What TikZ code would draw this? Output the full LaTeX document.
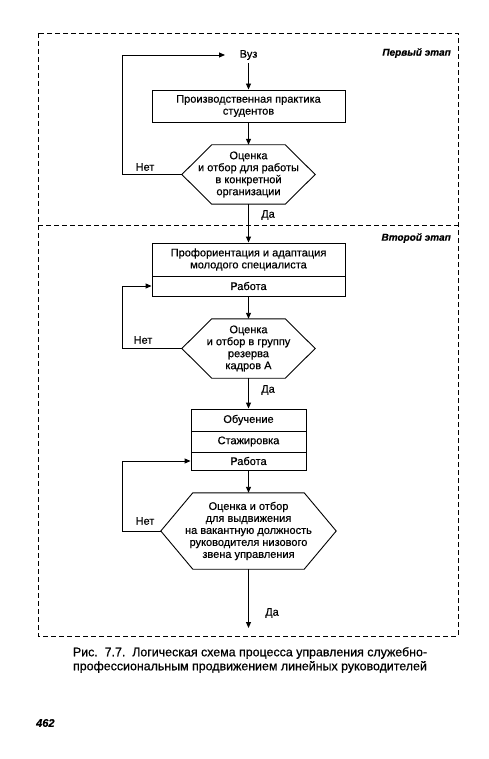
\documentclass[tikz,border=0pt]{standalone}
\usepackage{fontspec}
\setmainfont{Liberation Sans}[FakeBold=0.5]
\usetikzlibrary{arrows.meta,calc}
\newcommand\hexpath[2]{%
  \draw[conn] ($(#1.north west)+(#2,0)$) -- ($(#1.north east)-(#2,0)$) -- (#1.east)
    -- ($(#1.south east)-(#2,0)$) -- ($(#1.south west)+(#2,0)$) -- (#1.west) -- cycle;}
\begin{document}
\begin{tikzpicture}[x=1pt,y=-1pt,
  every node/.style={font=\fontsize{11}{12}\selectfont, inner sep=0pt},
  box/.style={draw, line width=0.9pt, align=center},
  hexnode/.style={align=center},
  conn/.style={line width=0.9pt},
  arr/.style={conn, -{Triangle[length=6pt,width=5pt]}},
  frame/.style={line width=0.9pt, dash pattern=on 5pt off 3pt},
  stage/.style={anchor=east, font=\fontsize{10}{12}\selectfont\bfseries\itshape},
  lbl/.style={}
]
\fill[white] (0,0) rectangle (489,759);
\useasboundingbox (0,0) rectangle (489,759);

% frames
\draw[frame] (38,33) rectangle (458,636);
\draw[frame] (38,225) -- (458,225);
\node[stage] (st1) at (451,53) {Первый этап};
\node[stage] (st2) at (451,238) {Второй этап};

% stage 1
\node[inner sep=3pt] (vuz) at (248.5,55) {Вуз};
\coordinate (vuzin) at (225,55);
\node[box, minimum width=193pt, minimum height=32pt] (b1) at (248.5,106)
  {Производственная практика\\студентов};
\node[hexnode, minimum width=133pt, minimum height=59pt] (h1) at (248.5,174.5)
  {Оценка\\и отбор для работы\\в конкретной\\организации};
\hexpath{h1}{30}

% stage 2
\node[box, minimum width=193pt, minimum height=33pt] (b2a) at (248.5,259.5)
  {Профориентация и адаптация\\молодого специалиста};
\node[box, minimum width=193pt, minimum height=20pt] (b2b) at (248.5,286)
  {Работа};
\node[hexnode, minimum width=133pt, minimum height=59pt] (h2) at (248.5,348.5)
  {Оценка\\и отбор в группу\\резерва\\кадров А};
\hexpath{h2}{30}

\node[box, minimum width=115pt, minimum height=22pt] (b3a) at (248.5,420) {Обучение};
\node[box, minimum width=115pt, minimum height=21pt] (b3b) at (248.5,441.5) {Стажировка};
\node[box, minimum width=115pt, minimum height=18pt] (b3c) at (248.5,461) {Работа};
\node[hexnode, minimum width=175pt, minimum height=76pt] (h3) at (248.5,531)
  {Оценка и отбор\\для выдвижения\\на вакантную должность\\руководителя низового\\звена управления};
\hexpath{h3}{32}
\coordinate (out) at (248.5,628);

% connectors
\draw[arr] (vuz.south) -- (b1.north);
\draw[arr] (b1.south) -- (h1.north);
\draw[arr] (h1.west) -- ++(-59,0) |- (vuzin);
\draw[arr] (h1.south) -- (b2a.north);
\draw[arr] (b2b.south) -- (h2.north);
\draw[arr] (h2.west) -- ++(-59,0) |- (b2b.west);
\draw[arr] (h2.south) -- (b3a.north);
\draw[arr] (b3c.south) -- (h3.north);
\draw[arr] (h3.west) -- ++(-38,0) |- (b3c.west);
\draw[arr] (h3.south) -- (out);

% labels
\node (n1) at (145,167) {Нет};
\node (d1) at (268,215) {Да};
\node (n2) at (143,340) {Нет};
\node (d2) at (268,390) {Да};
\node (n3) at (145,521) {Нет};
\node (d3) at (272,613) {Да};

% caption
\node[align=center, font=\fontsize{12.4}{14}\selectfont] (cap) at (250,660)
  {Рис.\ \ 7.7.\ \ Логическая схема процесса управления служебно-\\профессиональным продвижением линейных руководителей};
\node[anchor=west, font=\fontsize{11}{12}\selectfont\bfseries\itshape] (pg) at (36,723) {462};
\end{tikzpicture}
\end{document}
